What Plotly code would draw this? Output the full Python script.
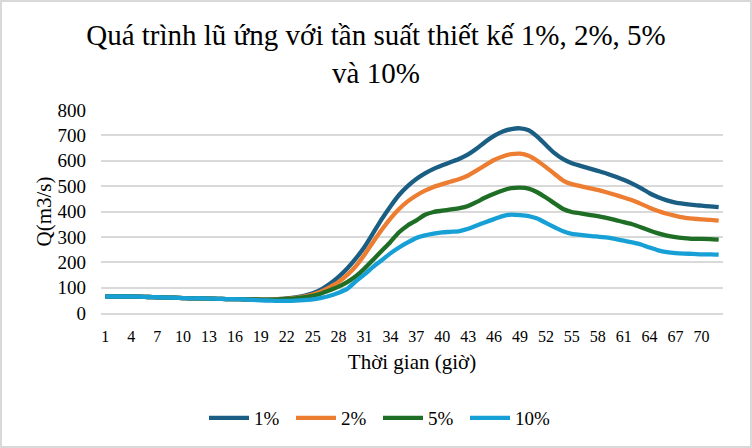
import plotly.graph_objects as go

hours = list(range(1, 73))

base = [65, 65, 65, 65, 64, 63, 62, 61, 60, 59,
        58, 58, 57, 56, 55, 55, 54, 54, 53, 53]

q1 = base + [55, 58, 62, 68, 78, 93, 115, 142, 175, 215,
             260, 315, 370, 420, 465, 500, 528, 550, 568, 582,
             595, 608, 625, 648, 675, 698, 715, 725, 728, 720,
             695, 662, 630, 606, 590, 580, 570, 560, 550, 538,
             525, 510, 492, 472, 456, 444, 435, 430, 426, 423,
             420, 417]
q2 = base + [55, 57, 60, 65, 73, 85, 102, 122, 150, 185,
             230, 280, 328, 372, 410, 440, 463, 482, 497, 508,
             518, 528, 542, 562, 583, 603, 617, 626, 628, 620,
             600, 575, 548, 522, 508, 500, 492, 485, 476, 466,
             455, 444, 430, 415, 402, 391, 383, 376, 372, 369,
             367, 364]
q5 = base + [54, 56, 58, 62, 68, 77, 90, 104, 122, 145,
             175, 210, 245, 280, 318, 345, 365, 387, 398, 403,
             408, 413, 422, 438, 455, 470, 483, 492, 494, 490,
             476, 455, 432, 410, 398, 393, 387, 382, 375, 367,
             358, 350, 338, 325, 314, 305, 299, 295, 292, 292,
             291, 289]
q10 = base[:17] + [52, 50, 49, 48, 48, 49, 51, 54, 60, 68, 80, 95, 125,
                   152, 182, 208, 235, 258, 278, 296, 306, 313, 318,
                   320, 323, 332, 345, 358, 370, 382, 388, 386, 382,
                   372, 355, 338, 322, 312, 308, 304, 301, 298, 292,
                   285, 278, 270, 258, 247, 240, 236, 234, 233, 231,
                   231, 230]

series_names = ["1%", "2%", "5%", "10%"]
series_vals = [q1, q2, q5, q10]
colors = ["#1A5E84", "#ED7D31", "#1E6E26", "#17A0D6"]

tick_vals = list(range(1, 73, 3))
tick_text = [str(v) for v in tick_vals]
y_ticks = list(range(0, 801, 100))

FONT = "Times New Roman, Liberation Serif, serif"

fig = go.Figure()
for name, vals, col in zip(series_names, series_vals, colors):
    fig.add_trace(go.Scatter(
        x=hours, y=vals, name=name, mode="lines",
        line=dict(color=col, width=4.3, shape="spline", smoothing=0.6),
    ))

W, H = 752, 448
ml, mr, mt, mb = 101, 29, 110, 135
pw, ph = W - ml - mr, H - mt - mb

fig.update_layout(
    width=W, height=H, autosize=False,
    margin=dict(l=ml, r=mr, t=mt, b=mb),
    paper_bgcolor="white", plot_bgcolor="white",
    font=dict(family=FONT, color="#000000"),
    title=dict(
        text="Quá trình lũ ứng với tần suất thiết kế 1%, 2%, 5%<br>và 10%",
        x=0.5, xanchor="center", xref="container",
        y=1 - 45 / H, yanchor="top", yref="container",
        font=dict(family=FONT, size=29, color="#000000"),
    ),
    xaxis=dict(
        range=[0.5, 72.5], tickmode="array", tickvals=tick_vals, ticktext=tick_text,
        showgrid=False, zeroline=False, showline=True, linecolor="#D9D9D9", linewidth=1.5,
        ticks="", tickfont=dict(family=FONT, size=16), ticklabelstandoff=8,
        title=dict(text="Thời gian (giờ)", font=dict(family=FONT, size=21), standoff=10),
    ),
    yaxis=dict(
        range=[0, 800], tickmode="array", tickvals=y_ticks,
        showgrid=True, gridcolor="#D9D9D9", gridwidth=1.5, zeroline=False,
        showline=False, ticks="", tickfont=dict(family=FONT, size=19), ticklabelstandoff=14,
        title=dict(text="Q(m3/s)", font=dict(family=FONT, size=21), standoff=0),
    ),
    legend=dict(
        orientation="h", x=378 / W, xanchor="center", xref="container",
        y=30 / H, yanchor="middle", yref="container",
        font=dict(family=FONT, size=19), itemwidth=40,
        entrywidth=32, entrywidthmode="pixels",
        traceorder="normal",
    ),
    showlegend=True,
)

fig.add_shape(
    type="rect", xref="paper", yref="paper",
    x0=(-ml + 1) / pw, x1=(pw + mr - 1) / pw,
    y0=(-mb + 1) / ph, y1=(ph + mt - 1) / ph,
    line=dict(color="#D9D9D9", width=2), fillcolor="rgba(0,0,0,0)", layer="below",
)

fig.write_html("out.html", config={"displayModeBar": False},
               post_script="document.body.style.margin='0';")
